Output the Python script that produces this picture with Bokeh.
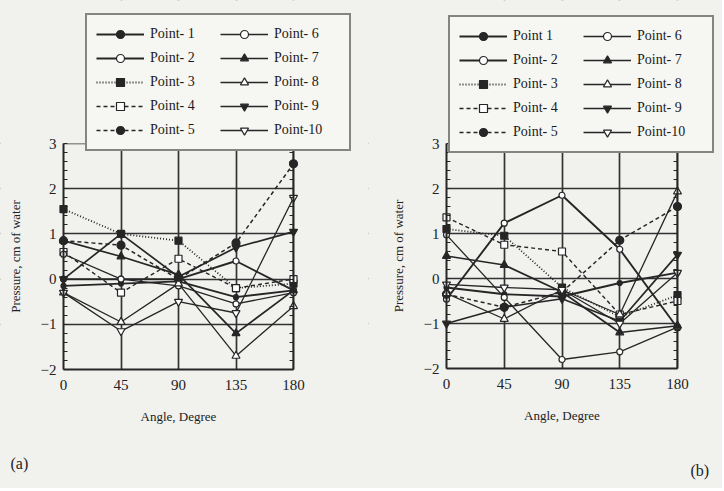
from bokeh.plotting import figure
from bokeh.models import (Legend, LegendItem, FixedTicker, Label, Range1d, BoxAnnotation,
                          LinearAxis)
from bokeh.layouts import row
from bokeh.embed import file_html
from bokeh.resources import INLINE

angles = [0, 45, 90, 135, 180]
x_ticks = [0, 45, 90, 135, 180]
y_ticks = [-2, -1, 0, 1, 2, 3]

names_a = ["Point- 1", "Point- 2", "Point- 3", "Point- 4", "Point- 5",
           "Point- 6", "Point- 7", "Point- 8", "Point- 9", "Point-10"]
names_b = ["Point 1", "Point- 2", "Point- 3", "Point- 4", "Point- 5",
           "Point- 6", "Point- 7", "Point- 8", "Point- 9", "Point-10"]

# panel (a)
a_p1 = [-0.15, -0.10, -0.05, -0.40, -0.25]
a_p2 = [0.00, 0.00, 0.00, 0.40, -0.25]
a_p3 = [1.55, 1.00, 0.85, -0.20, -0.10]
a_p4 = [0.60, -0.30, 0.45, -0.20, 0.00]
a_p5 = [0.85, 0.75, 0.00, 0.80, 2.55]
a_p6 = [0.55, 0.00, -0.15, -0.55, -0.30]
a_p7 = [0.85, 0.50, 0.10, -1.20, -0.25]
a_p8 = [-0.30, -0.95, -0.10, -1.70, -0.60]
a_p9 = [0.00, 1.00, 0.05, 0.70, 1.05]
a_p10 = [-0.30, -1.15, -0.50, -0.75, 1.80]

# panel (b)
b_p1 = [-0.20, -0.35, -0.40, -0.10, 0.13]
b_p2 = [-0.46, 1.23, 1.85, 0.65, -1.10]
b_p3 = [1.10, 0.95, -0.20, -0.85, -0.37]
b_p4 = [1.36, 0.75, 0.60, -0.80, -0.50]
b_p5 = [-0.35, -0.64, -0.30, 0.85, 1.60]
b_p6 = [0.97, -0.42, -1.80, -1.63, -1.08]
b_p7 = [0.50, 0.30, -0.30, -1.20, -1.05]
b_p8 = [-0.33, -0.90, -0.25, -0.80, 1.93]
b_p9 = [-1.00, -0.64, -0.45, -0.95, 0.53]
b_p10 = [-0.13, -0.20, -0.25, -1.00, 0.13]

series_a = [a_p1, a_p2, a_p3, a_p4, a_p5, a_p6, a_p7, a_p8, a_p9, a_p10]
series_b = [b_p1, b_p2, b_p3, b_p4, b_p5, b_p6, b_p7, b_p8, b_p9, b_p10]

INK = "#262626"
BG = "#f1f1ee"
FONT = "Liberation Serif"
H = 488

styles = [
    ("solid", 1.9, "circle", True, 5),
    ("solid", 1.9, "circle", False, 6),
    ("1 2", 1.8, "square", True, 7),
    ("4 3", 1.4, "square", False, 7),
    ("4 3", 1.5, "circle", True, 8),
    ("solid", 1.3, "circle", False, 6),
    ("solid", 1.7, "triangle", True, 8),
    ("solid", 1.3, "triangle", False, 8),
    ("solid", 1.7, "inverted_triangle", True, 8),
    ("solid", 1.3, "inverted_triangle", False, 8),
]


def style_axis(ax):
    ax.axis_line_color = INK
    ax.axis_line_width = 2
    ax.major_tick_out = 0
    ax.major_tick_in = 0
    ax.minor_tick_out = 0
    ax.minor_tick_in = 0
    ax.major_label_text_font = FONT
    ax.major_label_text_font_size = "15px"
    ax.major_label_text_color = "#222"
    ax.axis_label_text_font = FONT
    ax.axis_label_text_font_style = "normal"
    ax.axis_label_text_font_size = "13px"
    ax.axis_label_text_color = "#222"


def panel(series, names, width, x0px, x180px, y3px, ym2px, leg_left, leg_bottom, tag, tag_px):
    sx = (x180px - x0px) / 180.0
    sy = (ym2px - y3px) / 5.0
    xr = Range1d(-x0px / sx, 180 + (width - x180px) / sx)
    yr = Range1d(-2 - (H - ym2px) / sy, 3 + y3px / sy)
    p = figure(width=width, height=H, x_range=xr, y_range=yr,
               output_backend="svg", toolbar_location=None,
               min_border_left=0, min_border_right=0, min_border_top=0, min_border_bottom=0)
    p.background_fill_color = BG
    p.border_fill_color = BG
    p.outline_line_color = None

    p.xaxis.ticker = FixedTicker(ticks=x_ticks)
    p.yaxis.ticker = FixedTicker(ticks=y_ticks, minor_ticks=[v / 5 for v in range(-10, 16)])
    style_axis(p.xaxis[0])
    style_axis(p.yaxis[0])
    p.xaxis.fixed_location = -2
    p.yaxis.fixed_location = 0
    p.xaxis.bounds = (0, 180)
    p.yaxis.bounds = (-2, 3)
    p.yaxis.minor_tick_in = 4
    p.yaxis.minor_tick_line_color = INK
    p.yaxis.major_label_standoff = 7
    p.xaxis.major_label_standoff = 10
    p.xaxis.axis_label = "Angle, Degree"
    p.yaxis.axis_label = "Pressure, cm of water"
    p.xaxis.axis_label_standoff = 16
    p.yaxis.axis_label_standoff = 15

    rax = LinearAxis(ticker=FixedTicker(ticks=y_ticks, minor_ticks=[v / 5 for v in range(-10, 16)]),
                     fixed_location=180, bounds=(-2, 3))
    style_axis(rax)
    rax.minor_tick_in = 4
    rax.minor_tick_line_color = INK
    rax.major_label_text_color = None
    p.add_layout(rax, "right")

    p.xgrid.ticker = FixedTicker(ticks=[45, 90, 135, 180])
    p.ygrid.ticker = FixedTicker(ticks=[-1, 0, 1, 2, 3])
    p.grid.grid_line_color = "#333333"
    p.grid.grid_line_width = 1.7

    # mask grid lines outside the data area
    for kw in (dict(right=0), dict(left=180), dict(bottom=3), dict(top=-2)):
        p.add_layout(BoxAnnotation(level="underlay", fill_color=BG, fill_alpha=1,
                                   line_color=None, **kw))

    items = []
    for vals, name, (dash, lw, marker, filled, size) in zip(series, names, styles):
        ln = p.line(angles, vals, line_color=INK, line_width=lw, line_dash=dash)
        sc = p.scatter(angles, vals, marker=marker, size=size, line_color=INK, line_width=1.2,
                       fill_color=INK if filled else "white")
        items.append(LegendItem(label=name, renderers=[ln, sc]))

    leg = Legend(items=items, location=(leg_left, H - leg_bottom), nrows=5,
                 glyph_width=48, glyph_height=20, label_height=20, label_width=66,
                 spacing=4, padding=9, margin=0, label_standoff=6,
                 label_text_font=FONT, label_text_font_size="14px", label_text_color="#1a1a1a",
                 border_line_color="#111", border_line_width=2.5,
                 background_fill_color="#f6f6f3", background_fill_alpha=1)
    p.add_layout(leg, "center")

    tx, ty = tag_px
    p.add_layout(Label(x=(tx - x0px) / sx, y=-2 - (ty - ym2px) / sy, text=tag,
                       text_font=FONT, text_font_size="16px", text_color="#222",
                       text_baseline="middle"))
    return p


pa = panel(series_a, names_a, 368, 63, 293, 143, 369, 85, 151, "(a)", (10, 463))
pb = panel(series_b, names_b, 354, 78, 309, 143, 368, 80, 153, "(b)", (322, 470))

layout = row(pa, pb, spacing=0)
layout.styles = {"background-color": BG}
open("out.html", "w").write(file_html(layout, INLINE))
